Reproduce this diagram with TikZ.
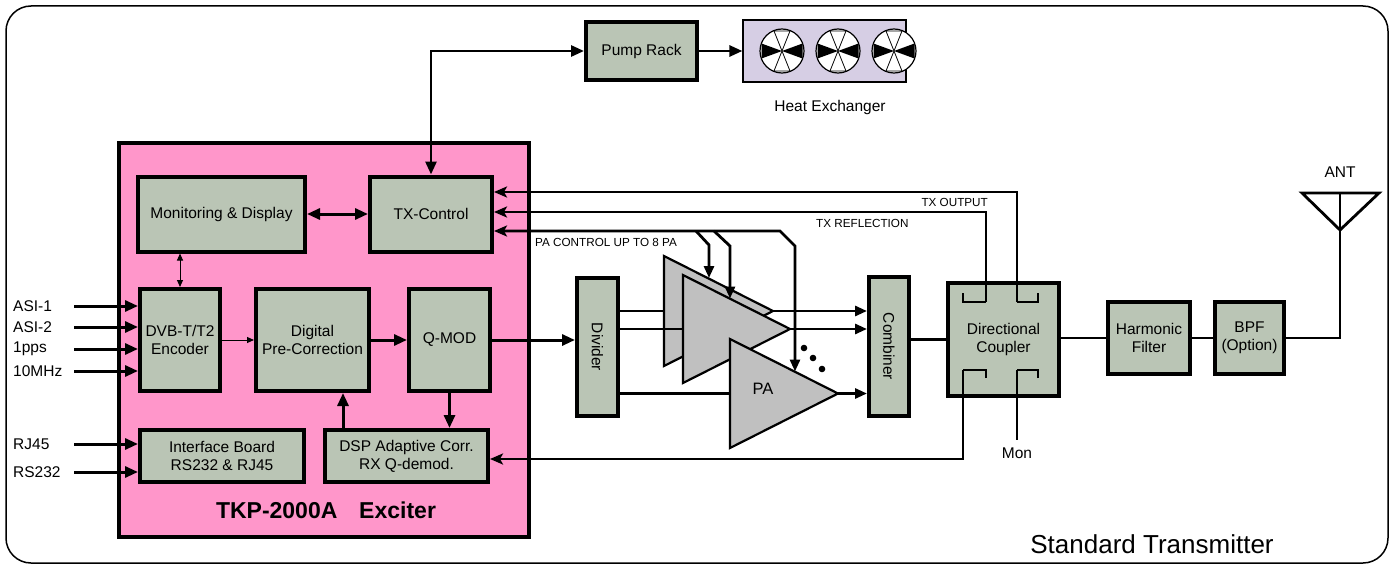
\documentclass[tikz,border=0pt]{standalone}
\usepackage{fontspec}
\setmainfont{Liberation Sans}
\usetikzlibrary{arrows.meta,calc,positioning}
\definecolor{boxgreen}{RGB}{186,197,181}
\definecolor{excpink}{RGB}{255,150,202}
\definecolor{hxlilac}{RGB}{214,206,228}
\definecolor{pagray}{RGB}{192,192,192}
\tikzset{
    blk/.style={draw,line width=4pt,fill=boxgreen,align=center,inner sep=0pt,font=\fontsize{15.5}{18}\selectfont},
    txt/.style={inner sep=0pt,font=\fontsize{15.5}{18}\selectfont},
    small/.style={inner sep=0pt,font=\fontsize{11.7}{13}\selectfont},
    fat/.style={line width=3pt,-{Triangle[length=13pt,width=11pt]}},
    fatboth/.style={line width=3pt,{Triangle[length=13pt,width=11pt]}-{Triangle[length=13pt,width=11pt]}},
    thinarr/.style={line width=1pt,-{Triangle[length=7pt,width=6pt]}},
    thinboth/.style={line width=1pt,{Triangle[length=7pt,width=6pt]}-{Triangle[length=7pt,width=6pt]}},
    sig/.style={line width=2.8pt},
    sigarr/.style={line width=2.8pt,-{Stealth[length=13pt,width=11pt,inset=3pt]}},
    paarr/.style={line width=2.8pt,-{Triangle[length=12pt,width=10pt]}},
    pa/.style={draw,line width=2.2pt,fill=pagray,line join=miter}
}
\begin{document}
\begin{tikzpicture}[x=1pt,y=-1pt]
\useasboundingbox (0,0) rectangle (1397,567);
\draw[line width=1.5pt,rounded corners=25pt] (6,6) rectangle (1388,563);

% exciter
\node[draw,line width=3.2pt,fill=excpink,minimum width=410,minimum height=394] (exc) at (324,340) {};
\node[inner sep=0pt,font=\fontsize{23}{26}\selectfont\bfseries] (exclbl) at (326,510) {TKP-2000A\hspace{0.95em}Exciter};
\node[blk,minimum width=167,minimum height=75] (mon) at (221.5,214) {Monitoring \& Display};
\node[blk,minimum width=122,minimum height=75] (txc) at (431,214) {TX-Control};
\node[blk,minimum width=80,minimum height=102] (enc) at (180,340) {DVB-T/T2\\Encoder};
\node[blk,minimum width=113,minimum height=102] (dpc) at (312.5,340) {Digital\\Pre-Correction};
\node[blk,minimum width=81,minimum height=102] (qmod) at (449.5,340) {Q-MOD};
\node[blk,minimum width=164,minimum height=52] (ifb) at (222,456) {Interface Board\\RS232 \& RJ45};
\node[blk,minimum width=163,minimum height=52] (dsp) at (406.5,456) {DSP Adaptive Corr.\\RX Q-demod.};

\foreach \i/\name/\yy in {1/ASI-1/306,2/ASI-2/327,3/1pps/349,4/10MHz/371} {
    \node[txt,anchor=west] (in\i) at (13,\yy) {\name};
    \coordinate (s\i) at (74,\yy);
    \draw[fat] (s\i) -- (s\i -| enc.west);
}
\foreach \i/\name/\yy in {5/RJ45/444,6/RS232/472} {
    \node[txt,anchor=west] (in\i) at (13,\yy) {\name};
    \coordinate (s\i) at (74,\yy);
    \draw[fat] (s\i) -- (s\i -| ifb.west);
}

\draw[fatboth] (mon.east) -- (txc.west);
\draw[thinboth] (enc.north) -- (enc.north |- mon.south);
\draw[thinarr] (enc.east) -- (dpc.west);
\draw[fat] (dpc.east) -- (qmod.west);
\draw[fat] (qmod.south) -- (qmod.south |- dsp.north);
\coordinate (corr) at (343,0);
\draw[fat] (dsp.north -| corr) -- (dpc.south -| corr);

% cooling
\node[blk,minimum width=111,minimum height=58] (pump) at (641.5,51) {Pump Rack};
\node[draw,line width=1.2pt,fill=hxlilac,minimum width=163,minimum height=62] (hx) at (824.5,51) {};
\node[txt] (hxlbl) at (830,107) {Heat Exchanger};
\foreach \fx in {782,838,894} {
    \draw[line width=1.2pt,fill=white] (\fx,51) circle (22pt);
    \fill (\fx-20.5,43.5) -- (\fx-20.5,58.5) -- (\fx,51) -- cycle;
    \fill (\fx+20.5,43.5) -- (\fx+20.5,58.5) -- (\fx,51) -- cycle;
    \draw[line width=0.8pt] (\fx-8,31) -- (\fx+8,31) -- (\fx,51) -- cycle;
    \draw[line width=0.8pt] (\fx-8,71) -- (\fx+8,71) -- (\fx,51) -- cycle;
}
\draw[fatboth,line width=2.8pt] (txc.north) |- (pump.west);
\draw[fat,line width=2.8pt] (pump.east) -- (hx.west);

% rf chain
\node[blk,minimum width=41,minimum height=138] (div) at (597.5,347) {};
\node[txt,rotate=-90] (divlbl) at (div.center) {Divider};
\node[blk,minimum width=40,minimum height=139] (comb) at (889,346.5) {};
\node[txt,rotate=-90] (comblbl) at (comb.center) {Combiner};
\node[blk,minimum width=111,minimum height=113] (dc) at (1003.5,339.5) {Directional\\Coupler};
\node[blk,minimum width=82,minimum height=72] (hf) at (1149,338) {Harmonic\\Filter};
\node[blk,minimum width=69,minimum height=72] (bpf) at (1249.5,338) {BPF\\(Option)};
\draw[fat] (qmod.east) -- (qmod.east -| div.west);

\coordinate (pa1in) at (664,311);
\coordinate (pa2in) at (683,329);
\coordinate (pa3in) at (730,393.5);
\coordinate (pa1out) at (773,311);
\coordinate (pa2out) at (790,329);
\coordinate (pa3out) at (838,393.5);
\draw[sig] (pa1in -| div.east) -- (pa1in);
\draw[pa] (664,256) -- (664,366) -- (pa1out) -- cycle;
\draw[sig] (pa2in -| div.east) -- (pa2in);
\draw[pa] (683,275) -- (683,383) -- (pa2out) -- cycle;
\draw[sig] (pa3in -| div.east) -- (pa3in);
\draw[pa] (730,339) -- (730,448) -- (pa3out) -- cycle;
\node[txt,font=\fontsize{16.5}{18}\selectfont] (palbl) at (763,389) {PA};
\foreach \dx/\dy in {804/348,813/358,822/369} \fill (\dx,\dy) circle (3.3pt);
\foreach \k in {1,2,3} \draw[paarr] (pa\k out) -- (pa\k out -| comb.west);

\draw[sig] (dc.west -| comb.east) -- (dc.west);
\draw[sig] (hf.west -| dc.east) -- (hf.west);
\draw[sig] (hf.east) -- (bpf.west);

% antenna
\coordinate (ant) at (1340,230);
\draw[sig,line join=miter] (1302,193) -- (1379,193) -- (ant) -- cycle;
\draw[sig] (bpf.east) -| (1340,193);
\node[txt] (antlbl) at (1340,172) {ANT};

% coupler taps
\coordinate (fwd) at (1017,302);
\coordinate (refl) at (986,302);
\coordinate (rx) at (963,370);
\coordinate (mtap) at (1017,370);
\draw[sig] (963,293) -- (963,302) -- (refl);
\draw[sig] (1038,293) -- (1038,302) -- (fwd);
\draw[sig] (986,378) -- (986,370) -- (rx);
\draw[sig] (1038,378) -- (1038,370) -- (mtap);
\node[txt] (monlbl) at (1017,453) {Mon};
\draw[sig] (mtap) -- ([yshift=7pt]monlbl.north);
\draw[sigarr] (fwd) |- ([yshift=22pt]txc.east);
\draw[sigarr] (refl) |- ([yshift=2pt]txc.east);
\draw[sigarr] (rx) |- ([yshift=-3pt]dsp.east);
\node[small,anchor=east] (outlbl) at (988,202) {TX OUTPUT};
\node[small,anchor=west] (refllbl) at (816,223) {TX REFLECTION};

% pa control
\coordinate (pc1) at (696,231);
\coordinate (pc2) at (714,231);
\coordinate (pc3) at (780,231);
\draw[sig,{Stealth[length=13pt,width=11pt,inset=3pt]}-{Triangle[length=12pt,width=10pt]}] ([yshift=-17pt]txc.east) -- (pc3) -- (795,246) -- (795,371.5);
\draw[paarr] (pc1) -- (709,245) -- (709,278);
\draw[paarr] (pc2) -- (730,246) -- (730,298.5);
\node[small,anchor=west] (pclbl) at (535,242) {PA CONTROL UP TO 8 PA};

\node[inner sep=0pt,font=\fontsize{26}{30}\selectfont] (title) at (1152,544) {Standard Transmitter};
\end{tikzpicture}
\end{document}
